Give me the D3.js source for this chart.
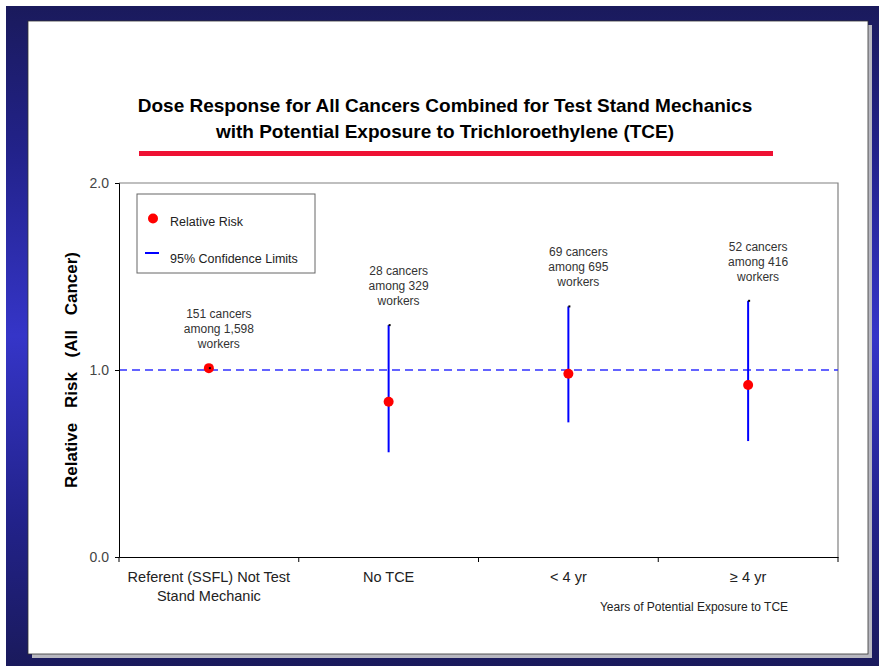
<!DOCTYPE html>
<html>
<head>
<meta charset="utf-8">
<script src="https://cdn.jsdelivr.net/npm/d3@7/dist/d3.min.js"></script>
<style>
  html, body { margin: 0; padding: 0; background: #fff; }
  svg { display: block; font-family: "Liberation Sans", Arial, sans-serif; }
</style>
</head>
<body>
<svg id="chart" width="879" height="666"></svg>
<script>
// ---- data ----
const categories = ["Referent (SSFL) Not Test|Stand Mechanic", "No TCE", "< 4 yr", "\u2265 4 yr"];
const relativeRisk = [1.01, 0.83, 0.98, 0.92];
const ciLower = [1.01, 0.56, 0.72, 0.62];
const ciUpper = [1.01, 1.24, 1.34, 1.37];
const annotations = [
  ["151 cancers", "among 1,598", "workers"],
  ["28 cancers", "among 329", "workers"],
  ["69 cancers", "among 695", "workers"],
  ["52 cancers", "among 416", "workers"]
];
const yTicks = [0, 1, 2];
const titleLines = ["Dose Response for All Cancers Combined for Test Stand Mechanics",
                    "with Potential Exposure to Trichloroethylene (TCE)"];
const yLabel = "Relative Risk (All Cancer)";
const xSubLabel = "Years of Potential Exposure to TCE";
const legendItems = ["Relative Risk", "95% Confidence Limits"];

// ---- layout ----
const svg = d3.select("#chart");
const defs = svg.append("defs");
const grad = defs.append("linearGradient").attr("id", "bg").attr("x1", 0).attr("y1", 0).attr("x2", 0).attr("y2", 1);
grad.append("stop").attr("offset", "0%").attr("stop-color", "#1a1a5c");
grad.append("stop").attr("offset", "22%").attr("stop-color", "#22228a");
grad.append("stop").attr("offset", "50%").attr("stop-color", "#3535c8");
grad.append("stop").attr("offset", "78%").attr("stop-color", "#22228a");
grad.append("stop").attr("offset", "100%").attr("stop-color", "#1a1a5c");

svg.append("rect").attr("x", 6).attr("y", 6).attr("width", 873).attr("height", 660).attr("fill", "url(#bg)");
// slide shadow
svg.append("rect").attr("x", 32).attr("y", 25).attr("width", 840).attr("height", 633).attr("fill", "#b8b8c0");
// slide
svg.append("rect").attr("x", 28).attr("y", 21).attr("width", 840).attr("height", 633)
  .attr("fill", "#fff").attr("stroke", "#333").attr("stroke-width", 0.8);

const plot = { left: 119, right: 838, top: 183, bottom: 557 };

const x = d3.scaleBand().domain(categories).range([plot.left, plot.right]).padding(0);
const y = d3.scaleLinear().domain([0, 2]).range([plot.bottom, plot.top]);
const cx = d => x(d) + x.bandwidth() / 2;

// title
const title = svg.append("g");
titleLines.forEach((t, i) => {
  title.append("text").attr("x", 445).attr("y", 112 + i * 26)
    .attr("text-anchor", "middle").attr("font-size", 19).attr("font-weight", "bold")
    .attr("fill", "#000").text(t);
});
svg.append("rect").attr("x", 139).attr("y", 151).attr("width", 634).attr("height", 5).attr("fill", "#ee1133");

// plot frame (top and right borders)
svg.append("path")
  .attr("d", `M${plot.left},${plot.top}H${plot.right}V${plot.bottom}`)
  .attr("fill", "none").attr("stroke", "#808080").attr("stroke-width", 1.2);

// reference dashed line at 1.0
svg.append("line")
  .attr("x1", plot.left).attr("x2", plot.right)
  .attr("y1", y(1)).attr("y2", y(1))
  .attr("stroke", "#3030ff").attr("stroke-width", 1.3).attr("stroke-dasharray", "8,5");

// y axis
const yAxis = svg.append("g").attr("transform", `translate(${plot.left},0)`)
  .call(d3.axisLeft(y).tickValues(yTicks).tickFormat(d3.format(".1f")).tickSize(4).tickPadding(6));
yAxis.select(".domain").attr("stroke", "#000");
yAxis.selectAll(".tick line").attr("stroke", "#000");
yAxis.selectAll(".tick text").attr("font-size", 14).attr("fill", "#444")
  .attr("font-family", "Liberation Sans, Arial, sans-serif");

// x axis (labels)
const xAxis = svg.append("g").attr("transform", `translate(0,${plot.bottom})`)
  .call(d3.axisBottom(x).tickSize(0).tickFormat(""));
xAxis.select(".domain").attr("stroke", "#000");
// boundary ticks
const bounds = categories.map(c => x(c)).concat([plot.right]);
svg.append("g").selectAll("line").data(bounds).join("line")
  .attr("x1", d => d).attr("x2", d => d)
  .attr("y1", plot.bottom).attr("y2", plot.bottom + 5)
  .attr("stroke", "#000");
xAxis.selectAll(".tick").each(function(d) {
  const lines = d.split("|");
  const t = d3.select(this).append("text").attr("fill", "#222")
    .attr("font-size", 14.5).attr("text-anchor", "middle")
    .attr("font-family", "Liberation Sans, Arial, sans-serif")
    .attr("y", 25);
  lines.forEach((l, i) => t.append("tspan").attr("x", 0).attr("dy", i === 0 ? 0 : 19).text(l));
});
svg.append("text").attr("x", 694).attr("y", 611).attr("text-anchor", "middle")
  .attr("font-size", 12).attr("fill", "#222").text(xSubLabel);

// y label
svg.append("text")
  .attr("transform", `translate(77,${(plot.top + plot.bottom) / 2}) rotate(-90)`)
  .attr("text-anchor", "middle").attr("font-size", 17).attr("font-weight", "bold")
  .attr("word-spacing", 10)
  .attr("fill", "#000").text(yLabel);

// confidence interval lines
const g = svg.append("g");
categories.forEach((c, i) => {
  g.append("line").attr("x1", cx(c)).attr("x2", cx(c))
    .attr("y1", y(ciLower[i])).attr("y2", y(ciUpper[i]))
    .attr("stroke", "#0000ff").attr("stroke-width", 2);
});
// points
categories.forEach((c, i) => {
  g.append("circle").attr("cx", cx(c)).attr("cy", y(relativeRisk[i])).attr("r", 5)
    .attr("fill", "#ff0000");
  g.append("rect").attr("x", cx(c)).attr("y", y(ciUpper[i]) - 1).attr("width", 2).attr("height", 2)
    .attr("fill", "#000");
});
// annotations
categories.forEach((c, i) => {
  const t = g.append("text").attr("text-anchor", "middle").attr("font-size", 12).attr("fill", "#333");
  const lines = annotations[i];
  lines.forEach((l, j) => {
    t.append("tspan").attr("x", cx(c) + 10)
      .attr("y", y(ciUpper[i]) - 20 - (lines.length - 1 - j) * 15)
      .text(l);
  });
});

// legend
const lg = svg.append("g");
lg.append("rect").attr("x", 137).attr("y", 194).attr("width", 178).attr("height", 79)
  .attr("fill", "#fff").attr("stroke", "#666").attr("stroke-width", 1);
lg.append("circle").attr("cx", 153).attr("cy", 218.5).attr("r", 5).attr("fill", "#ff0000");
lg.append("line").attr("x1", 145).attr("x2", 159).attr("y1", 253).attr("y2", 253)
  .attr("stroke", "#0000ff").attr("stroke-width", 2);
legendItems.forEach((t, i) => {
  lg.append("text").attr("x", 170).attr("y", 226 + i * 37).attr("font-size", 12.5)
    .attr("fill", "#222").text(t);
});
</script>
</body>
</html>
